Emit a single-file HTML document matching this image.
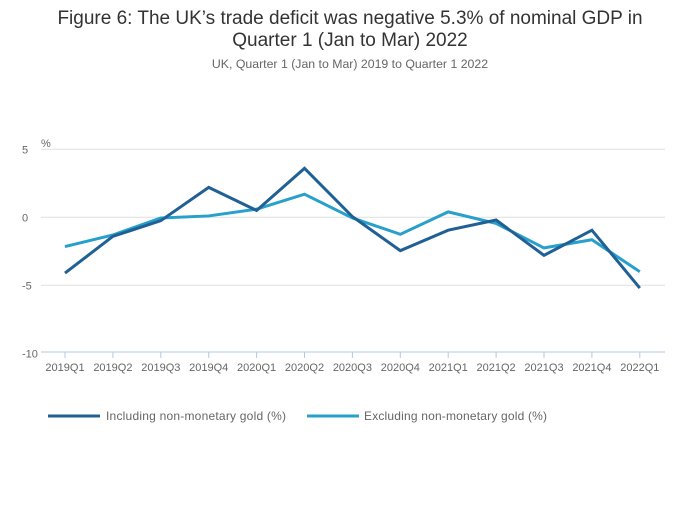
<!DOCTYPE html>
<html><head><meta charset="utf-8"><style>
body{margin:0;background:#fff;width:700px;height:502px;overflow:hidden;font-family:"Liberation Sans",sans-serif}
</style></head><body>
<svg width="700" height="502" xmlns="http://www.w3.org/2000/svg">
<text x="350" y="24" text-anchor="middle" font-size="19" fill="#333">Figure 6: The UK’s trade deficit was negative 5.3% of nominal GDP in</text>
<text x="350" y="46" text-anchor="middle" font-size="19" fill="#333">Quarter 1 (Jan to Mar) 2022</text>
<text x="350" y="68" text-anchor="middle" font-size="12.3" fill="#666">UK, Quarter 1 (Jan to Mar) 2019 to Quarter 1 2022</text>
<text x="41" y="147" font-size="11" fill="#666">%</text>
<g id="grid"></g><g id="xaxis"></g><g id="lines"></g>
<g>
<line x1="48" y1="416" x2="100" y2="416" stroke="#206095" stroke-width="3"/>
<text x="106" y="420" font-size="12" fill="#666" textLength="180">Including non-monetary gold (%)</text>
<line x1="307" y1="416" x2="359" y2="416" stroke="#27a0cc" stroke-width="3"/>
<text x="364" y="420" font-size="12" fill="#666" textLength="183">Excluding non-monetary gold (%)</text>
</g>
</svg>
<script>
const categories=["2019Q1","2019Q2","2019Q3","2019Q4","2020Q1","2020Q2","2020Q3","2020Q4","2021Q1","2021Q2","2021Q3","2021Q4","2022Q1"];
const including=[-4.1,-1.4,-0.25,2.2,0.5,3.6,0.05,-2.45,-0.95,-0.2,-2.8,-0.95,-5.2];
const excluding=[-2.15,-1.3,-0.05,0.1,0.6,1.7,-0.05,-1.25,0.4,-0.45,-2.25,-1.65,-4.0];
const yTicks=[5,0,-5,-10];
const NS="http://www.w3.org/2000/svg";
const y=v=>217.3-v*13.6;
const x=i=>65+i*47.9;
function mk(tag,attrs,parent){const e=document.createElementNS(NS,tag);for(const k in attrs)e.setAttribute(k,attrs[k]);document.getElementById(parent).appendChild(e);return e;}
yTicks.forEach(t=>{
 if(t>-10){const g=mk('line',{x1:41,x2:665,y1:y(t),y2:y(t),stroke:'#e0e0e0','stroke-width':1},'grid');
 
 }
 const l=mk('text',{x:22,y:y(t)+4,'font-size':11,fill:'#666'},'grid');l.textContent=t;
 
 
});
const ax=mk('line',{x1:41,x2:665,y1:352,y2:352,stroke:'#b4c9e0','stroke-width':1},'xaxis');


categories.forEach((c,i)=>{
 const tk=mk('line',{x1:x(i),x2:x(i),y1:352,y2:358,stroke:'#b4c9e0'},'xaxis');
 
 
 const t=mk('text',{x:x(i),y:371,'font-size':11,fill:'#666','text-anchor':'middle'},'xaxis');t.textContent=c;
 
 
});
[[excluding,'#27a0cc','line-excluding'],[including,'#206095','line-including']].forEach(([d,col,n])=>{
 const p=mk('polyline',{points:d.map((v,i)=>x(i)+','+y(v)).join(' '),fill:'none',stroke:col,'stroke-width':3,'stroke-linejoin':'miter'},'lines');
 
 
});
</script>
</body></html>
